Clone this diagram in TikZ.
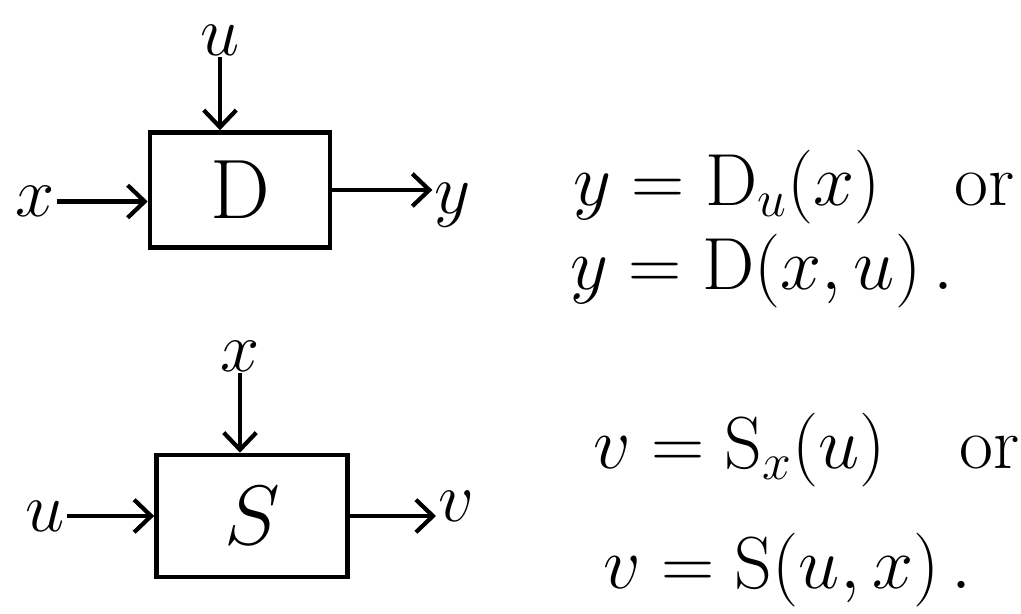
\RequirePackage{fix-cm}
\documentclass[tikz,border=0pt]{standalone}
\usepackage{amsmath}
\usetikzlibrary{arrows.meta,positioning}
\tikzset{
  blockbox/.style={draw, line width=2.6pt, minimum width=3.6cm, minimum height=2.3cm, font=\fontsize{48}{54}\selectfont},
  sig/.style={inner sep=1pt, font=\fontsize{40}{46}\selectfont},
  arr/.style={line width=2.4pt, -{Straight Barb[length=3.4mm,width=6.5mm,line width=2.4pt]}},
  eqn/.style={anchor=west, inner sep=0pt, font=\fontsize{42}{48}\selectfont}
}
\begin{document}
\begin{tikzpicture}
  \useasboundingbox (0,0) rectangle (20.42,12.28);
  % --- block D ---
  \node[blockbox] (D) at (4.8,8.48) {$\mathrm{D}$};
  \node[sig] (uD) at (4.40,11.48) {$u$};
  \node[sig] (xD) at (0.70,8.25) {$x$};
  \node[sig] (yD) at (9.05,8.18) {$y$};
  \draw[arr] (uD.south) -- (uD.south |- D.north);
  \draw[arr] (xD.east) -- (D.west |- xD.east);
  \draw[arr] (D.east) -- (D.east -| yD.west);
  % --- block S ---
  \node[blockbox, minimum width=3.82cm, minimum height=2.44cm] (S) at (5.04,1.96) {$S$};
  \node[sig] (xS) at (4.80,5.16) {$x$};
  \node[sig] (uS) at (0.90,1.96) {$u$};
  \node[sig] (vS) at (9.12,2.16) {$v$};
  \draw[arr] (xS.south) -- (xS.south |- S.north);
  \draw[arr] (uS.east) -- (S.west |- uS.east);
  \draw[arr] (S.east) -- (S.east -| vS.west);
  % --- equations ---
  \node[eqn] (eqDa) at (11.46,8.54) {$y=\mathrm{D}_u(x)\quad\mathrm{or}$};
  \node[eqn] (eqDb) at (11.40,6.86) {$y=\mathrm{D}(x,u)\,.$};
  \node[eqn] (eqSa) at (11.86,3.28) {$v=\mathrm{S}_x(u)\quad\mathrm{or}$};
  \node[eqn] (eqSb) at (12.06,0.88) {$v=\mathrm{S}(u,x)\,.$};
\end{tikzpicture}
\end{document}
